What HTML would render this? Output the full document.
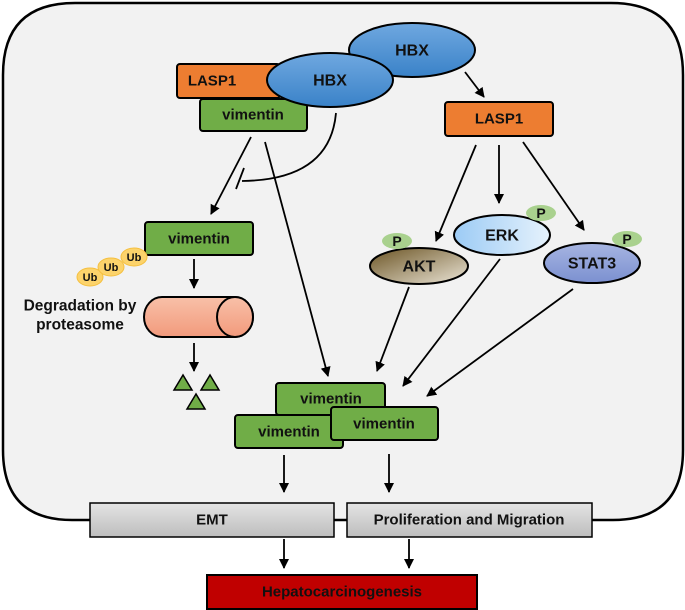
<!DOCTYPE html>
<html><head><meta charset="utf-8"><style>
html,body{margin:0;padding:0;background:#fff}
svg{display:block}
text{font-family:"Liberation Sans",Arial,sans-serif;font-weight:bold;text-anchor:middle;dominant-baseline:central;fill:#111}
</style></head><body>
<svg width="685" height="610" viewBox="0 0 685 610" xmlns="http://www.w3.org/2000/svg">
<defs>
<marker id="a" markerWidth="10" markerHeight="12" refX="9" refY="5" orient="auto" markerUnits="userSpaceOnUse">
<path d="M0,0 L10,5 L0,10 Z" fill="#000"/></marker>
<linearGradient id="blue" x1="0" y1="0" x2="0" y2="1"><stop offset="0" stop-color="#6fa8e0"/><stop offset="1" stop-color="#3a82c8"/></linearGradient>
<linearGradient id="erk" x1="0" y1="0" x2="1" y2="0"><stop offset="0" stop-color="#9ccbf5"/><stop offset="1" stop-color="#e6f2fc"/></linearGradient>
<linearGradient id="akt" x1="0" y1="0" x2="1" y2="1"><stop offset="0" stop-color="#6b5424"/><stop offset="1" stop-color="#ece6d8"/></linearGradient>
<linearGradient id="stat" x1="0" y1="0" x2="0" y2="1"><stop offset="0" stop-color="#a7b5e2"/><stop offset="1" stop-color="#7b90d0"/></linearGradient>
<linearGradient id="gray" x1="0" y1="0" x2="0" y2="1"><stop offset="0" stop-color="#e4e4e4"/><stop offset="1" stop-color="#bdbdbd"/></linearGradient>
<linearGradient id="cyl" x1="0" y1="0" x2="0" y2="1"><stop offset="0" stop-color="#f8c0a8"/><stop offset="1" stop-color="#f29a7c"/></linearGradient>
</defs>
<path d="M75,3 H611 Q683,3 683,75 V450 Q683,520 613,520 H72 Q3,520 3,450 V75 Q3,3 75,3 Z" fill="#f2f2f2" stroke="#000" stroke-width="2.5"/>

<rect x="177" y="64" width="103" height="34" rx="3" fill="#ed7d31" stroke="#000" stroke-width="2"/>
<text x="212" y="81" font-size="15">LASP1</text>
<rect x="200" y="99" width="107" height="32" rx="3" fill="#70ad47" stroke="#000" stroke-width="2"/>
<text x="253" y="115" font-size="15">vimentin</text>
<ellipse cx="412" cy="50" rx="63" ry="27" fill="url(#blue)" stroke="#000" stroke-width="2"/>
<text x="412" y="51" font-size="16">HBX</text>
<ellipse cx="330" cy="80" rx="63" ry="27" fill="url(#blue)" stroke="#000" stroke-width="2"/>
<text x="330" y="81" font-size="16">HBX</text>

<line x1="465" y1="72" x2="484" y2="97" stroke="#000" stroke-width="1.8" marker-end="url(#a)"/>
<rect x="445" y="102" width="108" height="34" rx="3" fill="#ed7d31" stroke="#000" stroke-width="2"/>
<text x="499" y="119" font-size="15">LASP1</text>

<line x1="251" y1="137" x2="211" y2="214" stroke="#000" stroke-width="1.8" marker-end="url(#a)"/>
<line x1="265" y1="142" x2="328" y2="376" stroke="#000" stroke-width="1.8" marker-end="url(#a)"/>
<path d="M336,113 Q330,180 242,181" fill="none" stroke="#000" stroke-width="1.8"/>
<line x1="244" y1="168" x2="236" y2="189" stroke="#000" stroke-width="1.8"/>

<rect x="145" y="222" width="108" height="33" rx="3" fill="#70ad47" stroke="#000" stroke-width="2"/>
<text x="199" y="239" font-size="15">vimentin</text>
<ellipse cx="90" cy="277" rx="13" ry="9" fill="#fcd36b" stroke="#f5c040" stroke-width="1"/>
<text x="90" y="278" font-size="11">Ub</text>
<ellipse cx="111" cy="267" rx="13" ry="9" fill="#fcd36b" stroke="#f5c040" stroke-width="1"/>
<text x="111" y="268" font-size="11">Ub</text>
<ellipse cx="134" cy="257" rx="13" ry="9" fill="#fcd36b" stroke="#f5c040" stroke-width="1"/>
<text x="134" y="258" font-size="11">Ub</text>
<line x1="194" y1="259" x2="194" y2="288" stroke="#000" stroke-width="1.8" marker-end="url(#a)"/>
<text x="80" y="306" font-size="15.5">Degradation by</text>
<text x="80" y="325" font-size="15.5">proteasome</text>
<path d="M162,297 H235 A18,20 0 0 1 235,337 H162 A18,20 0 0 1 162,297 Z" fill="url(#cyl)" stroke="#000" stroke-width="2"/>
<ellipse cx="235" cy="317" rx="18" ry="20" fill="url(#cyl)" stroke="#000" stroke-width="2"/>
<line x1="194" y1="343" x2="194" y2="371" stroke="#000" stroke-width="1.8" marker-end="url(#a)"/>
<polygon points="183,375 174,390 192,390" fill="#70ad47" stroke="#000" stroke-width="1.5"/>
<polygon points="210,375 201,390 219,390" fill="#70ad47" stroke="#000" stroke-width="1.5"/>
<polygon points="196,394 187,409 205,409" fill="#70ad47" stroke="#000" stroke-width="1.5"/>

<line x1="476" y1="145" x2="436" y2="241" stroke="#000" stroke-width="1.8" marker-end="url(#a)"/>
<line x1="499" y1="145" x2="499" y2="203" stroke="#000" stroke-width="1.8" marker-end="url(#a)"/>
<line x1="523" y1="142" x2="584" y2="230" stroke="#000" stroke-width="1.8" marker-end="url(#a)"/>

<ellipse cx="502" cy="235" rx="48" ry="20" fill="url(#erk)" stroke="#000" stroke-width="2"/>
<text x="502" y="236" font-size="16">ERK</text>
<ellipse cx="541" cy="213" rx="15" ry="8" fill="#a9d18e"/>
<text x="541" y="213" font-size="14">P</text>
<ellipse cx="419" cy="266" rx="49" ry="18" fill="url(#akt)" stroke="#000" stroke-width="2"/>
<text x="419" y="267" font-size="16">AKT</text>
<ellipse cx="397" cy="241" rx="15" ry="8" fill="#a9d18e"/>
<text x="397" y="241" font-size="14">P</text>
<ellipse cx="592" cy="263" rx="48" ry="20" fill="url(#stat)" stroke="#000" stroke-width="2"/>
<text x="592" y="264" font-size="16">STAT3</text>
<ellipse cx="627" cy="239" rx="15" ry="8" fill="#a9d18e"/>
<text x="627" y="239" font-size="14">P</text>

<line x1="409" y1="287" x2="377" y2="371" stroke="#000" stroke-width="1.8" marker-end="url(#a)"/>
<line x1="500" y1="259" x2="403" y2="386" stroke="#000" stroke-width="1.8" marker-end="url(#a)"/>
<line x1="573" y1="289" x2="427" y2="396" stroke="#000" stroke-width="1.8" marker-end="url(#a)"/>

<rect x="276" y="383" width="109" height="32" rx="3" fill="#70ad47" stroke="#000" stroke-width="2"/>
<text x="331" y="399" font-size="15">vimentin</text>
<rect x="235" y="415" width="108" height="33" rx="3" fill="#70ad47" stroke="#000" stroke-width="2"/>
<text x="289" y="432" font-size="15">vimentin</text>
<rect x="331" y="407" width="107" height="33" rx="3" fill="#70ad47" stroke="#000" stroke-width="2"/>
<text x="384" y="424" font-size="15">vimentin</text>

<line x1="284" y1="455" x2="284" y2="492" stroke="#000" stroke-width="1.8" marker-end="url(#a)"/>
<line x1="389" y1="454" x2="389" y2="492" stroke="#000" stroke-width="1.8" marker-end="url(#a)"/>

<rect x="90" y="503" width="244" height="34" fill="url(#gray)" stroke="#000" stroke-width="1.5"/>
<text x="212" y="520" font-size="15">EMT</text>
<rect x="347" y="503" width="245" height="34" fill="url(#gray)" stroke="#000" stroke-width="1.5"/>
<text x="469" y="520" font-size="15">Proliferation and Migration</text>

<line x1="284" y1="539" x2="284" y2="568" stroke="#000" stroke-width="1.8" marker-end="url(#a)"/>
<line x1="409" y1="539" x2="409" y2="568" stroke="#000" stroke-width="1.8" marker-end="url(#a)"/>
<rect x="207" y="575" width="270" height="34" fill="#c00000" stroke="#000" stroke-width="2"/>
<text x="342" y="592" font-size="15">Hepatocarcinogenesis</text>
</svg>
</body></html>
